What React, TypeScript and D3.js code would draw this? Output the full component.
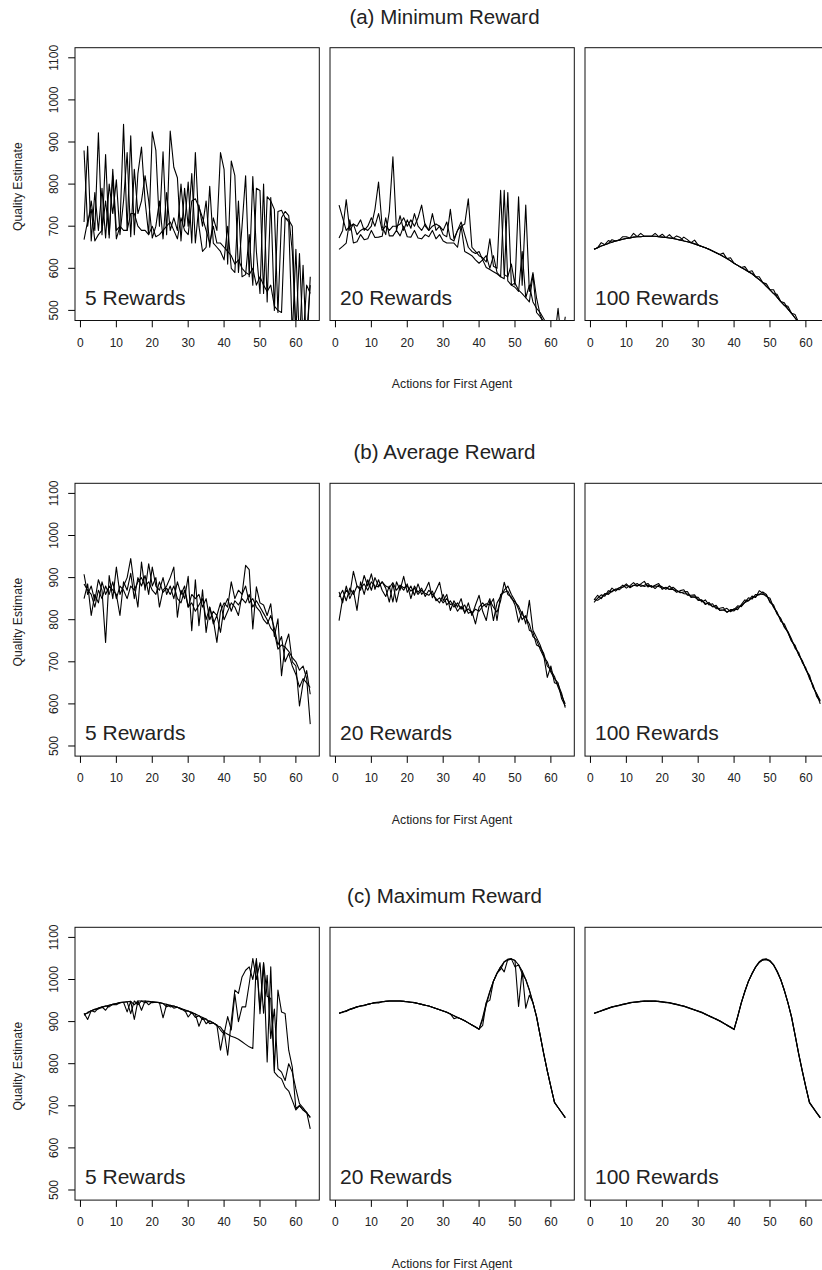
import React from 'react';
import * as d3 from 'd3';

// ---------- x categories ----------
const actions: number[] = [
  1, 2, 3, 4, 5, 6, 7, 8,
  9, 10, 11, 12, 13, 14, 15, 16,
  17, 18, 19, 20, 21, 22, 23, 24,
  25, 26, 27, 28, 29, 30, 31, 32,
  33, 34, 35, 36, 37, 38, 39, 40,
  41, 42, 43, 44, 45, 46, 47, 48,
  49, 50, 51, 52, 53, 54, 55, 56,
  57, 58, 59, 60, 61, 62, 63, 64,
];
const xTicks = [0, 10, 20, 30, 40, 50, 60];
const yTicks = [500, 600, 700, 800, 900, 1000, 1100];
const rowTitles = ['(a) Minimum Reward', '(b) Average Reward', '(c) Maximum Reward'];
const panelLabels = ['5 Rewards', '20 Rewards', '100 Rewards'];
const xLabel = 'Actions for First Agent';
const yLabel = 'Quality Estimate';

// ---------- (a) Minimum reward ----------
const minR5a = [
  880, 700, 760, 690, 922, 680, 870, 672,
  835, 690, 700, 942, 690, 915, 680, 825,
  888, 760, 680, 924, 880, 700, 877, 680,
  926, 840, 815, 665, 790, 700, 825, 660,
  750, 700, 760, 650, 720, 690, 875, 835,
  610, 855, 820, 590, 700, 820, 580, 818,
  640, 540, 800, 520, 768, 500, 735, 738,
  720, 710, 440, 645, 420, 607, 400, 580,
];
const minR5b = [
  710, 890, 665, 780, 690, 790, 672, 800,
  730, 810, 680, 760, 875, 675, 835, 730,
  760, 820, 760, 672, 700, 760, 670, 780,
  690, 720, 690, 800, 700, 805, 660, 875,
  700, 640, 650, 795, 660, 650, 640, 620,
  700, 600, 590, 760, 580, 585, 680, 560,
  790, 785, 540, 770, 760, 740, 495, 720,
  735, 725, 640, 450, 635, 430, 560, 540,
];
const minR5c = [
  668, 712, 740, 665, 680, 690, 760, 680,
  820, 670, 700, 690, 690, 730, 730, 700,
  690, 690, 680, 700, 675, 680, 690, 700,
  710, 690, 670, 720, 690, 680, 760, 765,
  745, 720, 690, 660, 700, 660, 660, 650,
  640, 630, 610, 620, 600, 590, 585, 600,
  560, 580, 560, 545, 560, 510, 500, 495,
  720, 715, 700, 430, 420, 470, 440, 560,
];
const minR20a = [
  750, 720, 690, 700, 705, 680, 690, 695,
  690, 700, 740, 805, 700, 680, 735, 865,
  690, 725, 690, 715, 695, 730, 700, 690,
  705, 690, 730, 690, 700, 680, 675, 740,
  670, 690, 700, 705, 765, 650, 640, 630,
  625, 615, 670, 605, 600, 785, 585, 580,
  610, 560, 770, 560, 750, 545, 590, 530,
  490, 470, 455, 445, 430, 505, 420, 410,
];
const minR20b = [
  672, 690, 763, 690, 705, 700, 715, 690,
  700, 720, 700, 730, 690, 700, 690, 700,
  700, 705, 720, 700, 715, 700, 720, 750,
  700, 690, 700, 705, 700, 690, 710, 670,
  665, 690, 710, 680, 650, 640, 635, 640,
  620, 630, 600, 630, 590, 580, 785, 570,
  560, 555, 545, 640, 530, 560, 520, 505,
  495, 480, 465, 450, 440, 430, 420, 485,
];
const minR20c = [
  645, 652, 660, 715, 660, 663, 680, 668,
  670, 690, 673, 674, 676, 720, 677, 677,
  690, 677, 700, 675, 674, 690, 672, 670,
  680, 675, 690, 670, 680, 665, 660, 660,
  660, 650, 700, 640, 635, 630, 620, 612,
  620, 602, 597, 592, 587, 580, 575, 780,
  560, 565, 548, 540, 530, 520, 585, 495,
  485, 472, 461, 449, 437, 425, 413, 401,
];
const minR100a = [
  645, 649, 653, 656, 659, 662, 665, 667,
  669, 671, 672, 674, 675, 675, 676, 676,
  676, 676, 675, 674, 673, 672, 671, 669,
  667, 665, 663, 661, 658, 655, 652, 649,
  645, 641, 637, 633, 628, 623, 618, 612,
  607, 602, 597, 592, 587, 580, 573, 566,
  557, 549, 540, 531, 521, 512, 503, 493,
  482, 471, 460, 449, 437, 425, 413, 401,
];
const minR100b = [
  645, 649, 661, 656, 659, 668, 665, 667,
  669, 671, 672, 683, 675, 675, 676, 676,
  676, 683, 675, 674, 673, 680, 671, 669,
  667, 674, 668, 661, 658, 655, 652, 649,
  645, 641, 637, 633, 636, 623, 618, 612,
  607, 602, 604, 592, 587, 580, 580, 566,
  557, 549, 549, 531, 521, 518, 503, 493,
  490, 471, 460, 449, 437, 425, 413, 401,
];
const minR100c = [
  645, 649, 653, 656, 666, 662, 665, 667,
  675, 675, 672, 674, 675, 683, 676, 676,
  676, 676, 675, 681, 673, 672, 671, 677,
  673, 665, 663, 661, 667, 655, 652, 649,
  645, 641, 637, 633, 628, 623, 625, 612,
  607, 602, 597, 592, 594, 580, 573, 566,
  563, 549, 540, 538, 521, 512, 510, 493,
  482, 471, 460, 449, 437, 425, 413, 401,
];

// ---------- (b) Average reward ----------
const avgR5a = [
  908, 860, 880, 845, 895, 870, 746, 905,
  850, 925, 860, 880, 900, 945, 880, 830,
  937, 870, 933, 880, 900, 830, 870, 880,
  900, 925, 806, 870, 850, 903, 774, 895,
  786, 871, 770, 830, 800, 746, 820, 840,
  830, 890, 850, 870, 860, 929, 919, 778,
  878, 840, 835, 810, 838, 760, 802, 667,
  740, 766, 700, 690, 595, 650, 679, 623,
];
const avgR5b = [
  850, 885, 810, 860, 840, 890, 860, 880,
  870, 860, 810, 890, 870, 910, 850, 900,
  880, 905, 860, 925, 880, 870, 900, 860,
  880, 850, 890, 860, 880, 830, 860, 850,
  860, 830, 850, 800, 820, 810, 840, 800,
  820, 840, 830, 810, 860, 880, 840, 850,
  830, 820, 800, 790, 810, 780, 740, 760,
  700, 720, 690, 670, 640, 660, 650, 639,
];
const avgR5c = [
  885, 870, 860, 830, 870, 850, 880, 860,
  890, 850, 880, 870, 850, 880, 870, 890,
  900, 880, 890, 870, 860, 890, 865, 875,
  860, 880, 850, 840, 870, 830, 840, 820,
  835, 850, 800, 830, 790, 810, 770, 830,
  850, 820, 845, 835, 850, 840, 860, 830,
  845, 830, 815, 800, 780, 770, 730, 740,
  735, 725, 710, 700, 680, 690, 660, 552,
];
const avgR20a = [
  798, 850, 870, 860, 915, 880, 870, 905,
  880, 909, 872, 895, 870, 855, 880, 842,
  890, 870, 903, 865, 880, 858, 885, 860,
  870, 889, 852, 870, 889, 845, 860, 822,
  845, 830, 850, 815, 840, 810, 835, 858,
  820, 798, 845, 830, 818, 845, 889, 860,
  854, 835, 794, 820, 790, 846, 775, 758,
  740, 715, 663, 690, 650, 647, 625, 591,
];
const avgR20b = [
  866, 840, 880, 850, 870, 822, 890, 860,
  895, 870, 900, 880, 890, 875, 842, 885,
  842, 880, 870, 885, 850, 880, 865, 875,
  855, 870, 860, 850, 840, 860, 835, 845,
  830, 840, 825, 835, 815, 820, 790, 830,
  840, 830, 850, 798, 840, 855, 870, 880,
  860, 845, 825, 800, 810, 775, 770, 740,
  735, 720, 690, 680, 665, 640, 620, 600,
];
const avgR20c = [
  854, 870, 845, 875, 860, 880, 875, 885,
  870, 890, 880, 878, 890, 880, 876, 888,
  870, 882, 876, 880, 868, 875, 860, 870,
  862, 858, 868, 845, 852, 840, 850, 836,
  838, 820, 832, 818, 826, 815, 825, 820,
  832, 838, 835, 850, 798, 860, 865, 868,
  850, 842, 832, 812, 805, 790, 760, 752,
  730, 712, 700, 675, 660, 650, 612, 595,
];
const avgR100a = [
  847, 858, 850, 861, 863, 875, 868, 875,
  882, 875, 881, 888, 880, 885, 891, 878,
  881, 874, 882, 878, 872, 880, 872, 865,
  869, 871, 858, 858, 859, 846, 847, 836,
  841, 831, 834, 822, 823, 827, 819, 826,
  824, 836, 847, 845, 856, 853, 869, 863,
  855, 851, 829, 818, 796, 790, 770, 749,
  739, 716, 703, 681, 668, 639, 624, 608,
];
const avgR100b = [
  841, 851, 859, 856, 869, 866, 873, 871,
  878, 885, 876, 881, 886, 879, 882, 886,
  877, 882, 886, 872, 877, 872, 877, 870,
  864, 866, 867, 853, 854, 853, 842, 847,
  835, 838, 826, 827, 829, 817, 824, 824,
  833, 831, 841, 852, 849, 860, 859, 866,
  860, 841, 835, 813, 803, 782, 772, 754,
  732, 722, 698, 685, 660, 645, 618, 606,
];
const avgR100c = [
  848, 846, 852, 862, 860, 868, 871, 876,
  877, 881, 878, 882, 880, 883, 879, 882,
  878, 880, 879, 875, 876, 872, 872, 868,
  866, 862, 861, 855, 854, 847, 846, 839,
  838, 831, 830, 823, 823, 819, 822, 821,
  829, 833, 841, 845, 852, 855, 861, 860,
  858, 844, 831, 814, 801, 784, 769, 750,
  736, 717, 701, 681, 664, 641, 624, 600,
];

// ---------- (c) Maximum reward ----------
const maxR5a = [
  920, 905, 926, 923, 932, 935, 927, 939,
  941, 943, 945, 946, 923, 948, 905, 949,
  927, 949, 948, 947, 946, 945, 909, 941,
  939, 937, 934, 931, 928, 911, 922, 918,
  889, 910, 895, 902, 897, 892, 832, 879,
  820, 900, 975, 967, 1006, 1022, 1030, 1000,
  1046, 919, 1038, 804, 1030, 784, 975, 923,
  919, 832, 792, 693, 701, 690, 683, 673,
];
const maxR5b = [
  915, 922, 926, 929, 930, 935, 937, 935,
  941, 940, 945, 946, 947, 919, 949, 940,
  949, 945, 948, 945, 946, 945, 943, 935,
  939, 932, 934, 931, 925, 925, 922, 910,
  914, 905, 906, 895, 897, 890, 887, 875,
  870, 865, 862, 858, 852, 846, 840, 836,
  1050, 930, 1040, 960, 955, 780, 770, 764,
  744, 735, 713, 690, 700, 690, 685, 645,
];
const maxR5c = [
  918, 920, 926, 929, 932, 933, 937, 939,
  941, 943, 945, 946, 947, 948, 940, 949,
  949, 949, 940, 947, 946, 945, 943, 941,
  935, 937, 934, 929, 928, 925, 920, 918,
  914, 910, 906, 900, 897, 892, 880, 870,
  912, 880, 965, 900, 935, 935, 990, 1050,
  1000, 1040, 920, 1010, 860, 930, 788, 780,
  760, 800, 780, 740, 705, 695, 684, 672,
];
const maxR20a = [
  920, 922, 926, 929, 931, 935, 937, 939,
  941, 943, 945, 946, 947, 948, 949, 949,
  949, 949, 948, 947, 946, 945, 943, 941,
  939, 937, 934, 931, 928, 925, 922, 918,
  907, 910, 906, 902, 897, 892, 887, 882,
  891, 945, 972, 996, 1015, 1030, 1042, 1048,
  1049, 1045, 936, 1020, 932, 963, 945, 912,
  868, 824, 783, 745, 708, 696, 684, 672,
];
const maxR20b = [
  920, 923, 924, 929, 932, 935, 937, 938,
  941, 943, 945, 944, 947, 948, 949, 949,
  949, 949, 948, 947, 946, 945, 943, 941,
  939, 937, 934, 931, 928, 925, 922, 918,
  914, 910, 906, 902, 897, 892, 887, 882,
  910, 945, 951, 996, 1015, 1030, 1018, 1048,
  1049, 1030, 1035, 1014, 1000, 975, 945, 912,
  868, 824, 783, 745, 708, 696, 684, 672,
];
const maxR20c = [
  920, 923, 926, 929, 932, 935, 937, 939,
  941, 943, 945, 946, 947, 948, 949, 949,
  949, 949, 948, 947, 946, 945, 943, 941,
  939, 937, 934, 931, 928, 925, 922, 918,
  914, 910, 906, 902, 897, 892, 887, 882,
  905, 940, 970, 996, 1015, 1024, 1042, 1046,
  1049, 1045, 1035, 1020, 1000, 975, 945, 912,
  868, 824, 783, 745, 708, 696, 684, 672,
];
const maxR100a = [
  920, 923, 926, 929, 932, 935, 937, 939,
  941, 943, 945, 946, 947, 948, 949, 949,
  949, 949, 948, 947, 946, 945, 943, 941,
  939, 937, 934, 931, 928, 925, 922, 918,
  914, 910, 906, 902, 897, 892, 887, 882,
  912, 945, 972, 996, 1015, 1030, 1042, 1048,
  1049, 1045, 1035, 1020, 1000, 975, 945, 912,
  868, 824, 783, 745, 708, 696, 684, 672,
];
const maxR100b = [
  920, 922, 926, 928, 932, 934, 937, 938,
  941, 942, 945, 946, 946, 948, 948, 949,
  948, 949, 947, 947, 945, 945, 942, 941,
  938, 937, 933, 931, 927, 925, 921, 918,
  913, 910, 905, 902, 896, 892, 886, 882,
  911, 944, 971, 995, 1014, 1029, 1041, 1046,
  1047, 1044, 1034, 1019, 999, 974, 944, 911,
  867, 823, 782, 744, 707, 695, 683, 672,
];
const maxR100c = [
  919, 923, 925, 929, 931, 935, 936, 939,
  940, 943, 944, 946, 947, 947, 949, 948,
  949, 948, 948, 946, 946, 944, 943, 940,
  939, 936, 934, 930, 928, 924, 922, 917,
  914, 909, 906, 901, 897, 891, 887, 881,
  912, 944, 972, 996, 1013, 1030, 1040, 1047,
  1048, 1043, 1035, 1018, 1000, 973, 945, 910,
  868, 822, 783, 743, 708, 696, 683, 671,
];

const rowSeries: number[][][][] = [
  [[minR5a, minR5b, minR5c], [minR20a, minR20b, minR20c], [minR100a, minR100b, minR100c]],
  [[avgR5a, avgR5b, avgR5c], [avgR20a, avgR20b, avgR20c], [avgR100a, avgR100b, avgR100c]],
  [[maxR5a, maxR5b, maxR5c], [maxR20a, maxR20b, maxR20c], [maxR100a, maxR100b, maxR100c]],
];

// ---------- layout ----------
const W = 822;
const H = 1270;
const FONT = "'Liberation Sans', Arial, Helvetica, sans-serif";
const TEXT = '#222';
const panelLefts = [75, 330, 585];
const panelWidth = 244.3;
const rowTops = [47.7, 483.3, 927.3];
const panelHeight = 272.8;
const TICK = 6.8;

export default function App() {
  return (
    <svg
      width={W}
      height={H}
      viewBox={`0 0 ${W} ${H}`}
      style={{ position: 'absolute', left: 0, top: 0, background: '#fff' }}
      fontFamily={FONT}
    >
      <rect x={0} y={0} width={W} height={H} fill="#fff" />
      {rowSeries.map((panels, r) => {
        const top = rowTops[r];
        const bottom = top + panelHeight;
        const y = d3.scaleLinear().domain([476, 1124]).range([bottom, top]);
        return (
          <g key={r}>
            <text
              x={444.5}
              y={top - 24}
              fontSize={20.5}
              textAnchor="middle"
              fill={TEXT}
            >
              {rowTitles[r]}
            </text>
            <text
              transform={`translate(22,${(top + bottom) / 2 + 2.5}) rotate(-90)`}
              fontSize={12.2}
              textAnchor="middle"
              fill={TEXT}
            >
              {yLabel}
            </text>
            <text x={452} y={bottom + 67.5} fontSize={12.3} textAnchor="middle" fill={TEXT}>
              {xLabel}
            </text>
            {yTicks.map((t) => (
              <g key={t}>
                <line
                  x1={panelLefts[0] - TICK}
                  x2={panelLefts[0]}
                  y1={y(t)}
                  y2={y(t)}
                  stroke="#000"
                  strokeWidth={1}
                />
                <text
                  transform={`translate(58,${y(t)}) rotate(-90)`}
                  fontSize={12}
                  textAnchor="middle"
                  fill={TEXT}
                >
                  {t}
                </text>
              </g>
            ))}
            {panels.map((series, c) => {
              const left = panelLefts[c];
              const x = d3
                .scaleLinear()
                .domain([-1.52, 66.52])
                .range([left, left + panelWidth]);
              const line = d3
                .line<number>()
                .x((_, i) => x(actions[i]))
                .y((d) => y(d));
              const clipId = `clip-${r}-${c}`;
              return (
                <g key={c}>
                  <clipPath id={clipId}>
                    <rect x={left} y={top} width={panelWidth} height={panelHeight} />
                  </clipPath>
                  <g clipPath={`url(#${clipId})`}>
                    {series.map((s, k) => (
                      <path
                        key={k}
                        d={line(s) || ''}
                        fill="none"
                        stroke="#000"
                        strokeWidth={1.1}
                        strokeLinejoin="round"
                      />
                    ))}
                  </g>
                  <rect
                    x={left}
                    y={top}
                    width={panelWidth}
                    height={panelHeight}
                    fill="none"
                    stroke="#111"
                    strokeWidth={1}
                  />
                  {xTicks.map((t) => (
                    <g key={t}>
                      <line
                        x1={x(t)}
                        x2={x(t)}
                        y1={bottom}
                        y2={bottom + TICK}
                        stroke="#000"
                        strokeWidth={1}
                      />
                      <text
                        x={x(t)}
                        y={bottom + 26}
                        fontSize={12}
                        textAnchor="middle"
                        fill={TEXT}
                      >
                        {t}
                      </text>
                    </g>
                  ))}
                  <text x={left + 10} y={bottom - 16} fontSize={21} fill={TEXT}>
                    {panelLabels[c]}
                  </text>
                </g>
              );
            })}
          </g>
        );
      })}
    </svg>
  );
}
